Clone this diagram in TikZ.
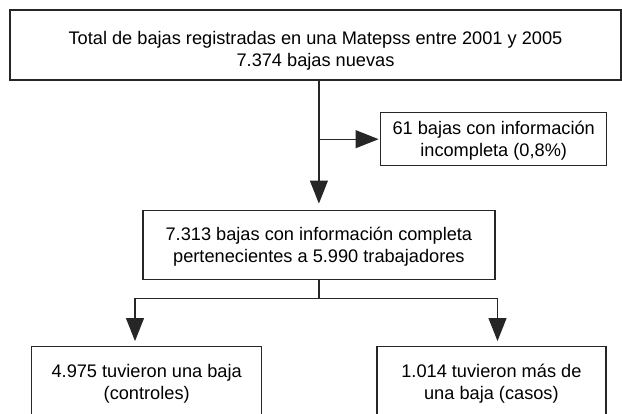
\documentclass[tikz,border=0pt]{standalone}
\usepackage{fontspec}
\setmainfont{Liberation Sans}
\usetikzlibrary{arrows, arrows.meta}

\tikzset{
  caja/.style={draw=black!85, line width=1.3pt, rectangle, align=center, inner sep=0pt,
    text depth=0pt, font=\fontsize{18.2}{22}\selectfont},
  linea/.style={draw=black!85, line width=1.3pt},
  flecha/.style={linea, -{Triangle[width=18pt,length=23pt]}}
}

\begin{document}
\begin{tikzpicture}[x=1pt,y=-1pt]
\useasboundingbox (0,0) rectangle (622,414);
\clip (0,0) rectangle (622,414);

% cajas
\node[caja, minimum width=611pt, minimum height=70pt] (total) at (315.5,45)
  {\rule{0pt}{21.5pt}Total de bajas registradas en una Matepss entre 2001 y 2005\\7.374 bajas nuevas};
\node[caja, minimum width=226pt, minimum height=53pt] (incomp) at (493.7,139.2)
  {61 bajas con información\\incompleta (0,8\%)};
\node[caja, minimum width=352pt, minimum height=69pt] (comp) at (318.9,244.7)
  {7.313 bajas con información completa\\pertenecientes a 5.990 trabajadores};
\node[caja, minimum width=230pt, minimum height=70pt] (ctrl) at (146.7,381.7)
  {4.975 tuvieron una baja\\(controles)};
\node[caja, minimum width=229pt, minimum height=70pt] (casos) at (491.4,381.7)
  {1.014 tuvieron más de\\una baja (casos)};

% puntos de union
\coordinate (rama) at (319,139.2);
\coordinate (barraI) at (135,298.3);
\coordinate (barraD) at (497.5,298.3);

% conectores
\draw[flecha, shorten >=6pt] (comp.north |- total.south) -- (comp.north);
\draw[flecha, shorten >=1.5pt] (rama) -- (incomp.west);
\draw[linea] (comp.south) -- (comp.south |- barraI);
\draw[linea] (barraI) -- (barraD);
\draw[flecha, shorten >=5pt] (barraI) -- (barraI |- ctrl.north);
\draw[flecha, shorten >=5pt] (barraD) -- (barraD |- casos.north);

\end{tikzpicture}
\end{document}
